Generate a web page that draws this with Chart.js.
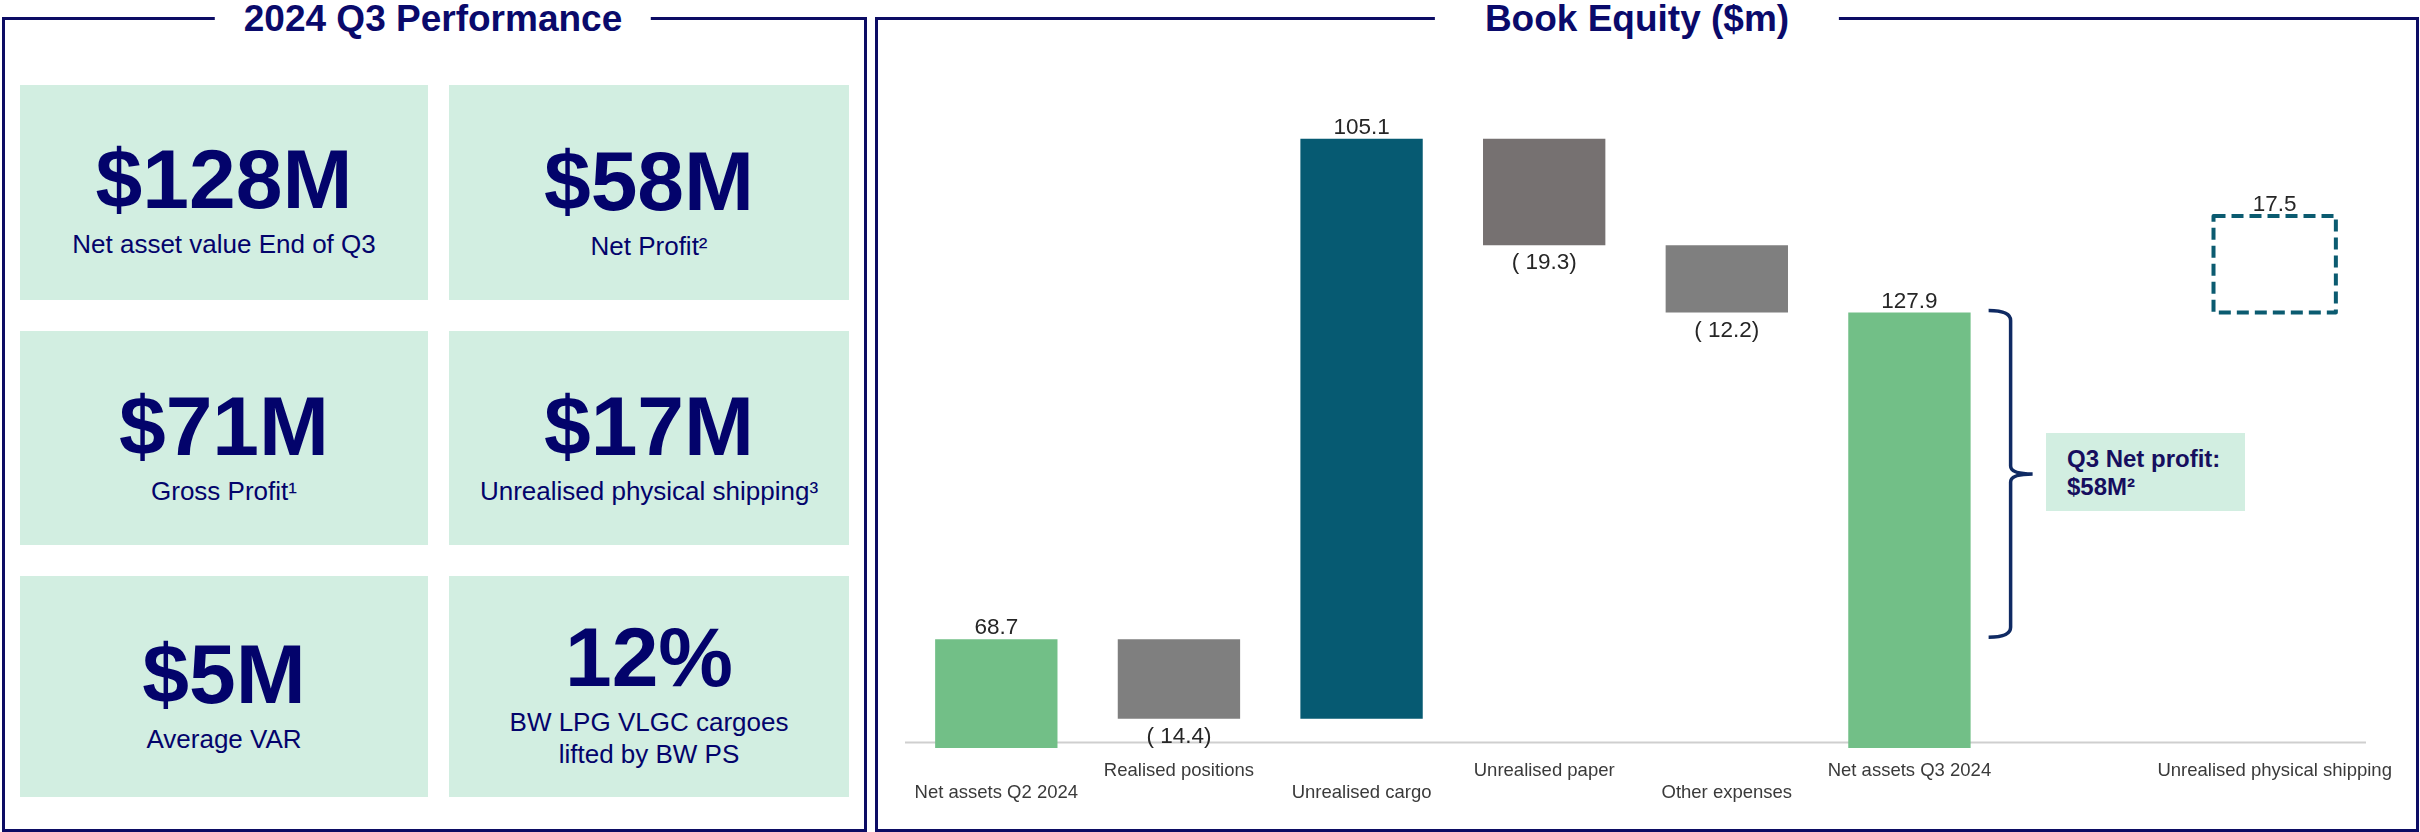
<!DOCTYPE html>
<html lang="en">
<head>
<meta charset="UTF-8">
<title>2024 Q3 Performance – Book Equity</title>
<script src="https://cdn.jsdelivr.net/npm/chart.js"></script>
<style>
  body{margin:0;width:2420px;height:832px;position:relative;background:#fff;font-family:"Liberation Sans",Arial,sans-serif;overflow:hidden}
  .panel{position:absolute;top:17px;height:815px;box-sizing:border-box;border:3px solid #0c0c64}
  #leftPanel{left:2px;width:865px}
  #rightPanel{left:875px;width:1544px}
  .title{position:absolute;top:0;transform:translateX(-50%);background:#fff;color:#0a0a6b;font-weight:bold;font-size:37px;line-height:37px;white-space:nowrap}
  #leftTitle{left:433px;padding:0 29px}
  #rightTitle{left:1637px;padding:0 50px}
  #tiles{position:absolute;left:20px;top:85px;display:grid;grid-template-columns:408px 400px;grid-template-rows:215px 214px 221px;column-gap:21px;row-gap:31px}
  .tile{background:#d2eee1;color:#03036b;text-align:center;box-sizing:border-box}
  .big{font-weight:bold;font-size:84px;line-height:84px}
  .sub{font-size:26px;line-height:30px;margin-top:8px}
  .tile:nth-child(1){padding-top:52px}
  .tile:nth-child(2){padding-top:54px}
  .tile:nth-child(3),.tile:nth-child(4){padding-top:53px}
  .tile:nth-child(5){padding-top:56px}
  .tile:nth-child(6){padding-top:39px}
  .tile:nth-child(6) .sub{line-height:32px;margin-top:7px}
  #chartBox{position:absolute;left:885px;top:70px;width:1531px;height:760px}
  #note{position:absolute;left:2046px;top:433px;width:199px;height:78px;box-sizing:border-box;padding:12px 0 0 21px;background:#d2eee1;color:#160e5e;font-weight:bold;font-size:24px;line-height:28px}
</style>
</head>
<body>
<div class="panel" id="leftPanel"></div>
<div class="panel" id="rightPanel"></div>
<div class="title" id="leftTitle">2024 Q3 Performance</div>
<div class="title" id="rightTitle">Book Equity ($m)</div>

<div id="tiles"></div>

<div id="chartBox"><canvas id="chart"></canvas></div>
<div id="note">Q3 Net profit:<br>$58M²</div>

<script>
// KPI tiles
const kpiValues=['$128M','$58M','$71M','$17M','$5M','12%'];
const kpiLabels=['Net asset value End of Q3','Net Profit²','Gross Profit¹','Unrealised physical shipping³','Average VAR','BW LPG VLGC cargoes<br>lifted by BW PS'];

// waterfall data ($m)
const categories=['Net assets Q2 2024','Realised positions','Unrealised cargo','Unrealised paper','Other expenses','Net assets Q3 2024','','Unrealised physical shipping'];
const stepValues=[68.7,-14.4,105.1,-19.3,-12.2,127.9,null,17.5];
const stepTypes=['total','change','change','change','change','total',null,'addon'];
const barColors=['#72bf87','#7f7f7f','#065a72','#767171','#7f7f7f','#72bf87','rgba(0,0,0,0)','rgba(0,0,0,0)'];
const yMin=49, yMax=166.4, axisValue=50;

const tiles=document.getElementById('tiles');
kpiValues.forEach((v,i)=>{
  const t=document.createElement('div');
  t.className='tile';
  t.innerHTML='<div class="big">'+v+'</div><div class="sub">'+kpiLabels[i]+'</div>';
  tiles.appendChild(t);
});

// floating bars from the running total
let running=0;
const floating=stepValues.map((v,i)=>{
  if(v===null) return null;
  if(stepTypes[i]==='total'){running=v;return [0,v];}
  const start=running, end=running+v;
  if(stepTypes[i]==='change') running=end;
  return [start,end];
});

// staggered category labels
const labels=categories.map((c,i)=>i%2===0?['',c]:[c]);

function fmt(v){
  return v>=0?v.toFixed(1):'( '+Math.abs(v).toFixed(1)+')';
}

const FONT='"Liberation Sans", Arial, sans-serif';

const waterfallExtras={
  id:'waterfallExtras',
  beforeDatasetsDraw(chart){
    const {ctx,chartArea,scales:{y}}=chart;
    const py=y.getPixelForValue(axisValue);
    ctx.save();
    ctx.strokeStyle='#cfcfcf';
    ctx.lineWidth=2;
    ctx.beginPath();
    ctx.moveTo(chartArea.left,py);
    ctx.lineTo(chartArea.right,py);
    ctx.stroke();
    ctx.restore();
  },
  afterDatasetsDraw(chart){
    const {ctx,scales:{y}}=chart;
    const bars=chart.getDatasetMeta(0).data;
    ctx.save();
    stepValues.forEach((v,i)=>{
      if(v===null) return;
      const b=bars[i].getProps(['x','y','base','width'],true);
      const top=Math.min(b.y,b.base), bottom=Math.max(b.y,b.base);
      if(stepTypes[i]==='addon'){
        ctx.setLineDash([12,6]);
        ctx.lineWidth=4;
        ctx.lineJoin='round';
        ctx.strokeStyle='#0b5b70';
        ctx.strokeRect(b.x-b.width/2,top,b.width,bottom-top);
        ctx.setLineDash([]);
      }
      ctx.font='22.5px '+FONT;
      ctx.fillStyle='#262626';
      ctx.textAlign='center';
      ctx.textBaseline='alphabetic';
      if(v>=0) ctx.fillText(fmt(v),b.x,top-5);
      else ctx.fillText(fmt(v),b.x,bottom+24);
    });

    // brace: opening NAV -> closing NAV
    const last=bars[5].getProps(['x','width'],true);
    const x0=last.x+last.width/2+18, xv=x0+22, xt=x0+44;
    const yTop=y.getPixelForValue(stepValues[5])-2;
    const yBot=y.getPixelForValue(stepValues[0])-2;
    const mid=(yTop+yBot)/2;
    ctx.strokeStyle='#0f2a63';
    ctx.lineWidth=3.5;
    ctx.beginPath();
    ctx.moveTo(x0,yTop);
    ctx.quadraticCurveTo(xv,yTop,xv,yTop+10);
    ctx.lineTo(xv,mid-8);
    ctx.quadraticCurveTo(xv,mid,xt,mid);
    ctx.moveTo(xt,mid);
    ctx.quadraticCurveTo(xv,mid,xv,mid+8);
    ctx.lineTo(xv,yBot-10);
    ctx.quadraticCurveTo(xv,yBot,x0,yBot);
    ctx.stroke();
    ctx.restore();
  }
};

new Chart(document.getElementById('chart'),{
  type:'bar',
  data:{
    labels,
    datasets:[{
      data:floating,
      backgroundColor:barColors,
      borderWidth:0,
      barPercentage:0.67,
      categoryPercentage:1,
      clip:0
    }]
  },
  options:{
    responsive:true,
    maintainAspectRatio:false,
    animation:false,
    layout:{padding:{left:20,right:50,top:30,bottom:13.6}},
    plugins:{legend:{display:false},tooltip:{enabled:false}},
    scales:{
      x:{
        grid:{display:false,drawTicks:false},
        border:{display:false},
        ticks:{autoSkip:false,maxRotation:0,minRotation:0,padding:12,color:'#3a3a3a',
          font:{family:FONT,size:18.5,lineHeight:1.2}}
      },
      y:{display:false,min:yMin,max:yMax}
    }
  },
  plugins:[waterfallExtras]
});
</script>
</body>
</html>
